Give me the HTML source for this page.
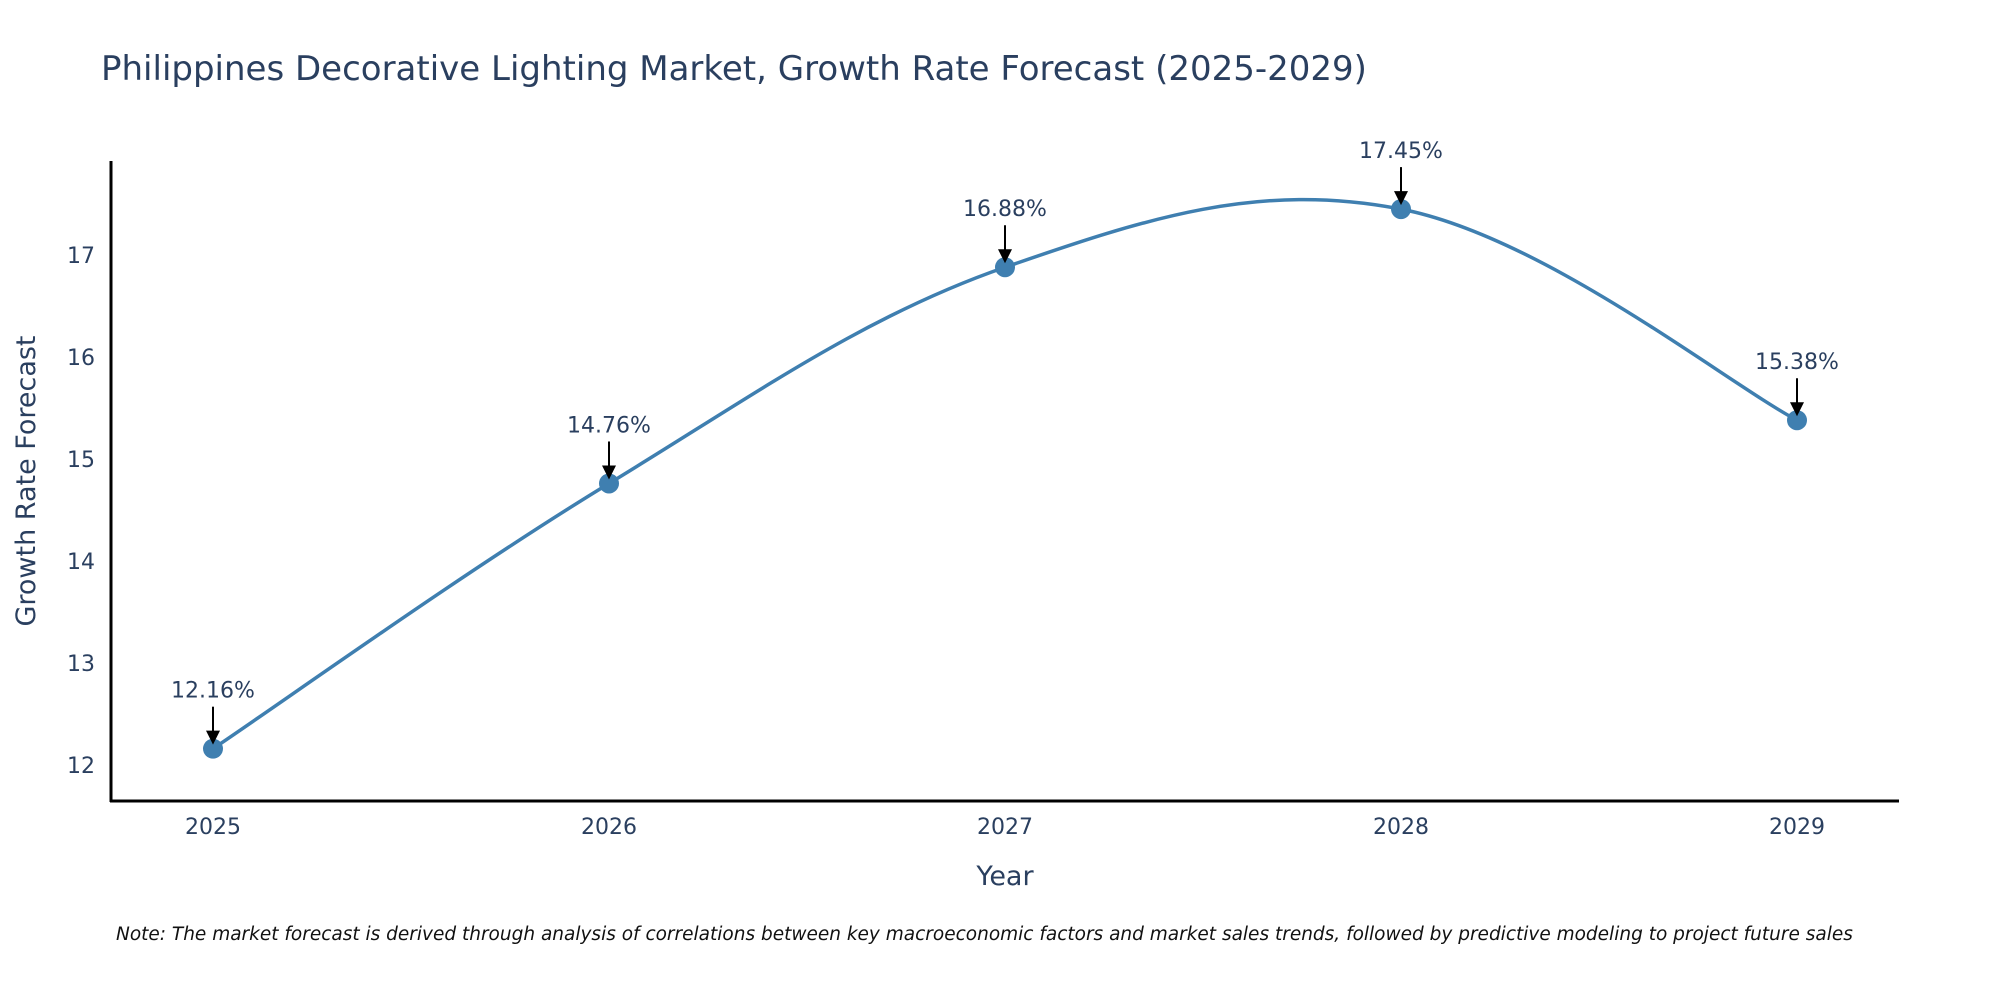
<!DOCTYPE html>
<html><head><meta charset="utf-8"><style>
body{margin:0;background:#fff;overflow:hidden;}
svg{display:block;font-family:"DejaVu Sans","Liberation Sans",sans-serif;}
</style></head><body>
<svg id="chart" width="2000" height="1000" viewBox="0 0 2000 1000">
<text x="101" y="80" font-size="34" fill="#2a3f5f">Philippines Decorative Lighting Market, Growth Rate Forecast (2025-2029)</text>
<g id="ticks"></g>
<line x1="111" y1="161" x2="111" y2="802" stroke="#000" stroke-width="3"/>
<line x1="110" y1="801" x2="1899" y2="801" stroke="#000" stroke-width="3"/>
<text x="1005" y="885" font-size="27" fill="#2a3f5f" text-anchor="middle">Year</text>
<text transform="translate(35,481) rotate(-90)" font-size="27" fill="#2a3f5f" text-anchor="middle">Growth Rate Forecast</text>
<path id="line" fill="none" stroke="#3f7fb0" stroke-width="3.5"/>
<g id="marks"></g>
<text x="116" y="940" font-size="18.5" font-style="italic" fill="#111">Note: The market forecast is derived through analysis of correlations between key macroeconomic factors and market sales trends, followed by predictive modeling to project future sales</text>
</svg>
<script>
const years = [2025, 2026, 2027, 2028, 2029];
const values = [12.16, 14.76, 16.88, 17.45, 15.38];
const yTicks = [12, 13, 14, 15, 16, 17];
const NS = "http://www.w3.org/2000/svg";
function xs(i){ return 213 + (i) * 396; }
function ys(v){ return 765 - (v - 12) * 102; }
const tg = document.getElementById('ticks');
yTicks.forEach(t => {
  const el = document.createElementNS(NS, 'text');
  
  
  el.setAttribute('x', 95); el.setAttribute('y', ys(t) + 8);
  el.setAttribute('font-size', '22'); el.setAttribute('fill', '#2a3f5f');
  el.setAttribute('text-anchor', 'end');
  el.textContent = t; tg.appendChild(el);
});
years.forEach((y, i) => {
  const el = document.createElementNS(NS, 'text');
  
  
  el.setAttribute('x', xs(i)); el.setAttribute('y', 834);
  el.setAttribute('font-size', '22'); el.setAttribute('fill', '#2a3f5f');
  el.setAttribute('text-anchor', 'middle');
  el.textContent = y; tg.appendChild(el);
});
const pts = values.map((v, i) => [xs(i), ys(v)]);
let d = 'M' + pts[0][0] + ',' + pts[0][1];
const s = 0.18;
for (let i = 0; i < pts.length - 1; i++) {
  const p0 = pts[Math.max(0, i - 1)], p1 = pts[i], p2 = pts[i + 1], p3 = pts[Math.min(pts.length - 1, i + 2)];
  const c1 = [p1[0] + (p2[0] - p0[0]) * s, p1[1] + (p2[1] - p0[1]) * s];
  const c2 = [p2[0] - (p3[0] - p1[0]) * s, p2[1] - (p3[1] - p1[1]) * s];
  d += ' C' + c1.join(',') + ' ' + c2.join(',') + ' ' + p2.join(',');
}
document.getElementById('line').setAttribute('d', d);
const mg = document.getElementById('marks');
pts.forEach((p, i) => {
  const c = document.createElementNS(NS, 'circle');
  
  
  c.setAttribute('cx', p[0]); c.setAttribute('cy', p[1]); c.setAttribute('r', 10);
  c.setAttribute('fill', '#3f7fb0'); mg.appendChild(c);
  const l = document.createElementNS(NS, 'line');
  
  
  l.setAttribute('x1', p[0]); l.setAttribute('y1', p[1] - 42);
  l.setAttribute('x2', p[0]); l.setAttribute('y2', p[1] - 16);
  l.setAttribute('stroke', '#000'); l.setAttribute('stroke-width', '2'); mg.appendChild(l);
  const a = document.createElementNS(NS, 'polygon');
  
  
  a.setAttribute('points', (p[0]-7)+','+(p[1]-18)+' '+(p[0]+7)+','+(p[1]-18)+' '+p[0]+','+(p[1]-4));
  a.setAttribute('fill', '#000'); mg.appendChild(a);
  const t = document.createElementNS(NS, 'text');
  
  
  t.setAttribute('x', p[0]); t.setAttribute('y', p[1] - 51);
  t.setAttribute('font-size', '22'); t.setAttribute('fill', '#2a3f5f');
  t.setAttribute('text-anchor', 'middle');
  t.textContent = values[i].toFixed(2) + '%'; mg.appendChild(t);
});
</script>
</body></html>
